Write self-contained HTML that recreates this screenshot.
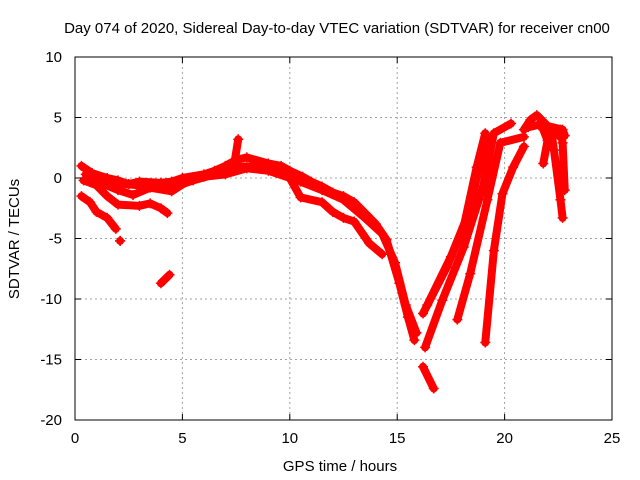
<!DOCTYPE html>
<html><head><meta charset="utf-8"><style>
body{margin:0;background:#fff}
svg{display:block;font-family:"Liberation Sans",sans-serif}
</style></head><body>
<svg id="chart" width="640" height="480" viewBox="0 0 640 480">
<text x="337" y="33" font-size="15" text-anchor="middle">Day 074 of 2020, Sidereal Day-to-day VTEC variation (SDTVAR) for receiver cn00</text>
<g id="grid"></g>
<g id="marks"></g>
<rect x="75" y="57" width="537" height="363" fill="none" stroke="#000" stroke-width="1"/>
<g id="ticks"></g>
<text x="340" y="471" font-size="15" text-anchor="middle">GPS time / hours</text>
<text transform="translate(19,239) rotate(-90)" font-size="15" text-anchor="middle">SDTVAR / TECUs</text>
</svg>
<script>
const xTicks=[0,5,10,15,20,25];
const yTicks=[10,5,0,-5,-10,-15,-20];
const trackMain=[[0.3,1],[0.8,0.4],[1.5,0],[2,-0.2],[2.5,-0.5],[3,-0.3],[4,-0.4],[4.5,-0.3],[5,0],[6,0.3],[6.5,0.6],[7,1],[7.5,1.5],[8,1.7],[9,1.2],[9.6,1],[10,0.6],[10.6,0.1],[11,-0.3],[11.5,-0.7],[12,-1.2],[12.5,-1.5],[13,-2],[13.5,-2.9],[14,-3.8],[14.5,-5.1],[15.1,-8.7],[15.5,-11.5],[15.8,-13.4]];
const trackMainB=[[0.5,0.3],[1.5,-0.4],[3,-0.6],[4.5,-0.7],[5.5,-0.2],[6.5,0.3],[7.5,0.9],[8.5,1],[9.5,0.5],[10.5,-0.3],[11.5,-1],[12.5,-1.8],[13.5,-3.3],[14.3,-4.6],[14.9,-7],[15.4,-10.5],[15.9,-12.8]];
const trackMid=[[0.4,-0.2],[1,-0.6],[1.5,-1.5],[2,-2.2],[3,-2.3],[3.5,-2.1],[4,-2.5],[4.3,-2.9]];
const trackMid2=[[1.2,-0.4],[2,-1],[2.7,-1.4],[3.5,-0.8],[4.5,-1.1],[5.3,-0.2]];
const trackLow=[[0.3,-1.5],[0.7,-2],[1,-2.8],[1.5,-3.3],[1.9,-4.2]];
const trackUpper2=[[5,-0.5],[6,0.1],[7,0.3],[8,0.8],[9,0.6],[10,0],[10.5,-1.6],[11.5,-2],[12,-2.8],[12.5,-3.3],[13,-3.6],[13.7,-5.4],[14.3,-6.3]];
const trackSpike=[[7.4,1],[7.6,3.2]];
const trackIso=[[4,-8.7],[4.4,-8]];
const trackPoint=[[2.1,-5.2],[2.1,-5.2]];
const trackLowSeg=[[16.2,-15.6],[16.7,-17.4]];
const trackR1=[[16.2,-11.2],[17.3,-7.4],[18.1,-4],[18.7,0.9],[19.1,3.7]];
const trackR1B=[[16.4,-10.5],[17.5,-6.5],[18.3,-3],[18.9,1.5],[19.3,3.3]];
const trackR2=[[16.3,-14],[17.1,-10.1],[18.1,-5.7],[19,-0.7],[19.5,3.7],[20.3,4.5]];
const trackR3=[[17.8,-11.7],[18.4,-7.9],[19.2,-1.8],[19.8,2.9],[20.9,3.4]];
const trackR4=[[19.1,-13.6],[19.5,-6],[19.9,-1.3],[20.4,0.9],[20.9,2.6]];
const trackPeak=[[20.9,4],[21.2,4.8],[21.5,5.2],[22,4.3],[22.7,4],[22.8,3.5]];
const trackPeakB=[[21.1,4.2],[21.6,4.4],[22.2,3.8],[22.7,3.3]];
const trackD1=[[21.8,4],[22,3.1],[21.8,1.2]];
const trackD2=[[22.2,3.5],[22.3,2.3],[22.6,-1.8],[22.7,-3.3]];
const trackD3=[[22.6,4],[22.7,2.9],[22.8,-1]];
const tracks=[trackMain,trackMainB,trackMid,trackMid2,trackLow,trackUpper2,trackSpike,trackIso,trackPoint,trackLowSeg,trackR1,trackR1B,trackR2,trackR3,trackR4,trackPeak,trackPeakB,trackD1,trackD2,trackD3];
const X0=75,X1=612,Y0=420,Y1=57;
const sx=v=>X0+(v-0)/(25-0)*(X1-X0);
const sy=v=>Y0-(v-(-20))/(10-(-20))*(Y0-Y1);
const NS="http://www.w3.org/2000/svg";
const grid=document.getElementById('grid'),ticks=document.getElementById('ticks'),marks=document.getElementById('marks');
function mk(tag,attrs,parent){const e=document.createElementNS(NS,tag);for(const k in attrs)e.setAttribute(k,attrs[k]);parent.appendChild(e);return e;}
xTicks.forEach(t=>{
 const x=sx(t);
 if(t>0&&t<25){const g=mk('line',{x1:x,y1:Y1,x2:x,y2:Y0,stroke:'#a0a0a0','stroke-dasharray':'2,3'},grid);
 
 }
 mk('line',{x1:x,y1:Y0,x2:x,y2:Y0-6,stroke:'#000'},ticks);
 mk('line',{x1:x,y1:Y1,x2:x,y2:Y1+6,stroke:'#000'},ticks);
 const l=mk('text',{x:x,y:443,'font-size':15,'text-anchor':'middle'},ticks);l.textContent=t;
 
 
});
yTicks.forEach(t=>{
 const y=sy(t);
 if(t>-20&&t<10){const g=mk('line',{x1:X0,y1:y,x2:X1,y2:y,stroke:'#a0a0a0','stroke-dasharray':'2,3'},grid);
 
 }
 mk('line',{x1:X0,y1:y,x2:X0+6,y2:y,stroke:'#000'},ticks);
 mk('line',{x1:X1,y1:y,x2:X1-6,y2:y,stroke:'#000'},ticks);
 const l=mk('text',{x:62,y:y+5,'font-size':15,'text-anchor':'end'},ticks);l.textContent=t;
 
 
});
tracks.forEach(tr=>{
 const pts=tr.map(p=>sx(p[0])+','+sy(p[1])).join(' ');
 const pl=mk('polyline',{points:pts,fill:'none',stroke:'#ff0000','stroke-width':8,'stroke-linejoin':'round','stroke-linecap':'round'},marks);
 
 
 tr.forEach(p=>{
  const x=sx(p[0]),y=sy(p[1]);
  const m=mk('path',{d:`M${x-5},${y}H${x+5}M${x},${y-5}V${y+5}`,stroke:'#ff0000','stroke-width':1.5},marks);
  
  
 });
});
</script>
</body></html>
